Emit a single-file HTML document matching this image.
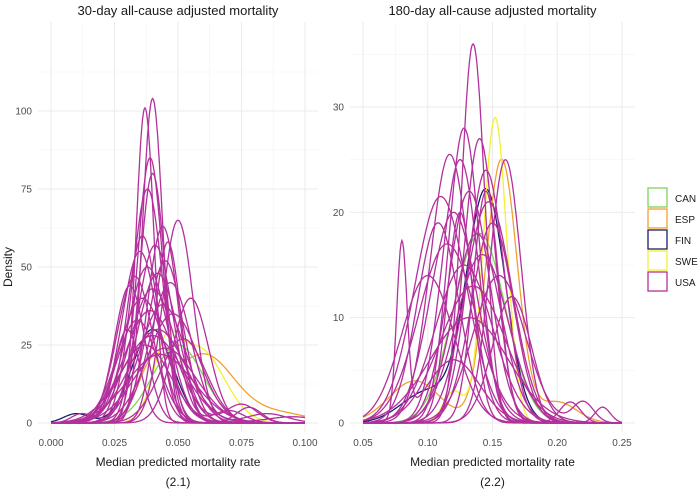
<!DOCTYPE html>
<html><head><meta charset="utf-8"><style>
body{margin:0;background:#fff;font-family:"Liberation Sans",sans-serif}
svg text{font-family:"Liberation Sans",sans-serif}
</style></head><body>
<svg id="chart" width="700" height="492" viewBox="0 0 700 492"></svg>
<script>
// Panel 1 (30-day) curves: each curve = list of gaussian components [mean, sd, peak height]
const p1Countries = ["FIN","ESP","SWE","CAN"];
const p1Other = [
 [[0.040,0.008,30],[0.010,0.005,3]],
 [[0.060,0.012,22],[0.040,0.006,16],[0.090,0.012,3]],
 [[0.058,0.010,24],[0.045,0.005,18]],
 [[0.050,0.010,25]]
];
const p1USA = [
 [[0.037,0.0035,101]],[[0.040,0.004,104]],[[0.039,0.005,85]],[[0.040,0.005,80]],
 [[0.038,0.006,75]],[[0.050,0.006,65]],[[0.044,0.006,63]],[[0.036,0.006,60]],
 [[0.041,0.007,57],[0.070,0.006,4]],[[0.035,0.007,55]],[[0.045,0.007,52]],[[0.038,0.008,50],[0.078,0.005,5]],
 [[0.042,0.008,48]],[[0.033,0.007,47]],[[0.047,0.008,45],[0.085,0.008,3]],[[0.040,0.009,43]],
 [[0.036,0.009,40]],[[0.044,0.009,38]],[[0.039,0.010,36],[0.075,0.006,6]],[[0.048,0.010,35]],
 [[0.034,0.008,33]],[[0.042,0.011,30]],[[0.040,0.012,28],[0.095,0.01,2]],[[0.052,0.009,27]],
 [[0.037,0.010,25]],[[0.045,0.012,24]],[[0.043,0.013,22]],[[0.031,0.006,44]],
 [[0.055,0.007,40]],[[0.046,0.005,58]],[[0.030,0.005,30],[0.012,0.004,3]]
];
const p1XTicks = [0,0.025,0.05,0.075,0.1];
const p1XLabels = ["0.000","0.025","0.050","0.075","0.100"];
const p1YTicks = [0,25,50,75,100];

// Panel 2 (180-day)
const p2Countries = ["CAN","FIN","ESP","SWE"];
const p2Other = [
 [[0.140,0.020,18]],
 [[0.145,0.015,22],[0.100,0.02,3]],
 [[0.157,0.012,25],[0.090,0.020,4],[0.200,0.015,2]],
 [[0.152,0.009,29],[0.120,0.008,3]]
];
const p2USA = [
 [[0.135,0.009,36]],[[0.128,0.012,28]],[[0.140,0.012,27]],[[0.117,0.015,25.5]],
 [[0.125,0.014,25]],[[0.160,0.012,25]],[[0.145,0.014,24]],[[0.110,0.020,21.5]],
 [[0.132,0.016,22],[0.210,0.008,2]],[[0.120,0.018,20]],[[0.150,0.016,19]],[[0.138,0.018,18],[0.235,0.006,1.5]],
 [[0.115,0.022,17]],[[0.142,0.020,16]],[[0.128,0.022,15]],[[0.155,0.020,14],[0.220,0.008,2]],
 [[0.100,0.020,14]],[[0.135,0.025,13]],[[0.080,0.004,16.5],[0.120,0.020,6]],[[0.147,0.018,21]],
 [[0.125,0.010,20]],[[0.145,0.010,22]],[[0.108,0.016,19]],[[0.165,0.015,12]],[[0.132,0.030,10]]
];
const p2XTicks = [0.05,0.1,0.15,0.2,0.25];
const p2XLabels = ["0.05","0.10","0.15","0.20","0.25"];
const p2YTicks = [0,10,20,30];

const colors = {CAN:"#7fd25a",ESP:"#f0a030",FIN:"#1c1c6e",SWE:"#f5f030",USA:"#b3309c"};
const svg = document.getElementById('chart');
const NS = "http://www.w3.org/2000/svg";
function mk(tag, attrs, parent){const e=document.createElementNS(NS,tag);for(const k in attrs)e.setAttribute(k,attrs[k]);(parent||svg).appendChild(e);return e;}

function panel(cfg){
  const g = mk('g',{});
  
  
  const sx = v => cfg.x0 + (v-cfg.xmin)/(cfg.xmax-cfg.xmin)*(cfg.x1-cfg.x0);
  const sy = v => cfg.y0 - (v-cfg.ymin)/(cfg.ymax-cfg.ymin)*(cfg.y0-cfg.y1);
  const L = cfg.left, R = cfg.right, T = 22, B = 432;
  // minor grid
  for(let i=0;i<cfg.xt.length-1;i++){const m=(cfg.xt[i]+cfg.xt[i+1])/2;mk('line',{x1:sx(m),x2:sx(m),y1:T,y2:B,stroke:"#f3f3f3","stroke-width":0.6},g);}
  for(let i=0;i<cfg.yt.length-1;i++){const m=(cfg.yt[i]+cfg.yt[i+1])/2;mk('line',{x1:L,x2:R,y1:sy(m),y2:sy(m),stroke:"#f3f3f3","stroke-width":0.6},g);}
  const lastY = cfg.yt[cfg.yt.length-1]+(cfg.yt[1]-cfg.yt[0])/2;
  if(sy(lastY)>T) mk('line',{x1:L,x2:R,y1:sy(lastY),y2:sy(lastY),stroke:"#f3f3f3","stroke-width":0.6},g);
  cfg.xt.forEach((t,i)=>{
    mk('line',{x1:sx(t),x2:sx(t),y1:T,y2:B,stroke:"#ebebeb","stroke-width":1},g);
    const tx=mk('text',{x:sx(t),y:446,"text-anchor":"middle","font-size":10,fill:"#4d4d4d"},g);tx.textContent=cfg.xl[i];
    
    
  });
  cfg.yt.forEach(t=>{
    mk('line',{x1:L,x2:R,y1:sy(t),y2:sy(t),stroke:"#ebebeb","stroke-width":1},g);
    const tx=mk('text',{x:L-6,y:sy(t)+3.5,"text-anchor":"end","font-size":10,fill:"#4d4d4d"},g);tx.textContent=t;
    
    
  });
  function curve(comps,color){
    let d="";const N=300;
    for(let i=0;i<=N;i++){const x=cfg.xmin+(cfg.xmax-cfg.xmin)*i/N;let y=0;
      comps.forEach(c=>{y+=c[2]*Math.exp(-0.5*Math.pow((x-c[0])/c[1],2));});
      d+=(i?"L":"M")+sx(x).toFixed(1)+","+sy(y).toFixed(1);}
    const p=mk('path',{d:d,fill:"none",stroke:color,"stroke-width":1.3},g);
    
    
  }
  cfg.other.forEach((c,i)=>curve(c,colors[cfg.countries[i]]));
  cfg.usa.forEach(c=>curve(c,colors.USA));
  const t=mk('text',{x:(L+R)/2,y:15,"text-anchor":"middle","font-size":13,fill:"#1a1a1a"},g);t.textContent=cfg.title;
  
  
  const xt=mk('text',{x:(L+R)/2,y:466,"text-anchor":"middle","font-size":12,fill:"#1a1a1a"},g);xt.textContent="Median predicted mortality rate";
  
  
  const cap=mk('text',{x:(L+R)/2,y:486,"text-anchor":"middle","font-size":12,fill:"#1a1a1a"},g);cap.textContent=cfg.caption;
  
  
}
panel({name:"panel-30-day",title:"30-day all-cause adjusted mortality",caption:"(2.1)",left:38,right:318,
  x0:51,x1:305,xmin:0,xmax:0.1,y0:423,y1:111,ymin:0,ymax:100,xt:p1XTicks,xl:p1XLabels,yt:p1YTicks,
  other:p1Other,countries:p1Countries,usa:p1USA});
panel({name:"panel-180-day",title:"180-day all-cause adjusted mortality",caption:"(2.2)",left:350,right:635,
  x0:363,x1:622,xmin:0.05,xmax:0.25,y0:423,y1:107,ymin:0,ymax:30,xt:p2XTicks,xl:p2XLabels,yt:p2YTicks,
  other:p2Other,countries:p2Countries,usa:p2USA});
const yt=mk('text',{x:12,y:267,"text-anchor":"middle","font-size":12,fill:"#1a1a1a",transform:"rotate(-90 12 267)"});yt.textContent="Density";


const legendKeys=["CAN","ESP","FIN","SWE","USA"];
const lg=mk('g',{});


legendKeys.forEach((k,i)=>{
  const y=188+i*21;
  const r=mk('rect',{x:648,y:y,width:19,height:19,fill:"#fff",stroke:colors[k],"stroke-width":1.3},lg);
  
  
  const t=mk('text',{x:675,y:y+14,"font-size":10,fill:"#1a1a1a"},lg);t.textContent=k;
  
  
});
</script>
</body></html>
